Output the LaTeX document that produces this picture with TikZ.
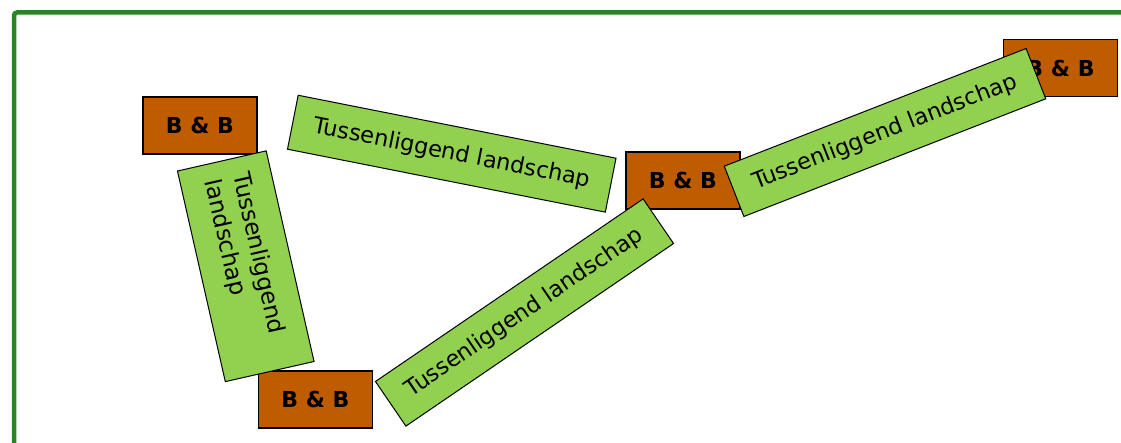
\documentclass[tikz,border=0pt]{standalone}
\usepackage{fontspec}
\setmainfont{DejaVu Sans}
\definecolor{bbbrown}{RGB}{192,92,0}
\definecolor{landgreen}{RGB}{146,208,80}
\definecolor{framegreen}{RGB}{38,134,38}
\begin{document}
\begin{tikzpicture}[x=1pt,y=-1pt,
  bnb/.style={draw=black, line width=1.5pt, fill=bbbrown,
    minimum width=114, minimum height=57, inner sep=0,
    font=\fontsize{22}{26}\selectfont\bfseries},
  land/.style={draw=black, line width=1pt, fill=landgreen,
    minimum width=324, minimum height=54, inner sep=0,
    font=\fontsize{22.5}{27}\selectfont},
  landtall/.style={land, minimum width=216, minimum height=91,
    inner xsep=16, text width=184, align=left,
    font=\fontsize{23.2}{29}\selectfont},
]
\useasboundingbox (0,0) rectangle (1121,443);

% outer frame, running off the page at right and bottom
\draw[framegreen, line width=4.5pt, rounded corners=3pt] (14,12.5) rectangle (1140,470);

% bed & breakfast stops
\node[bnb] (bb1) at (200,125.5) {B \& B};
\node[bnb] (bb2) at (315.5,399.5) {B \& B};
\node[bnb] (bb3) at (683,180.5) {B \& B};
\node[bnb] (bb4) at (1060.5,68) {B \& B};

% landscape between the stops
\node[landtall, rotate=-77.2] (l1) at (245.75,266.25) {Tussenliggend\\landschap};
\node[land, minimum height=55, rotate=-11.2] (l2) at (451.75,153.7) {Tussenliggend landschap};
\node[land, rotate=34.3] (l3) at (524.5,312.5) {Tussenliggend landschap};
\node[land, rotate=21.3] (l4) at (885,132.5) {Tussenliggend landschap};
\end{tikzpicture}
\end{document}
